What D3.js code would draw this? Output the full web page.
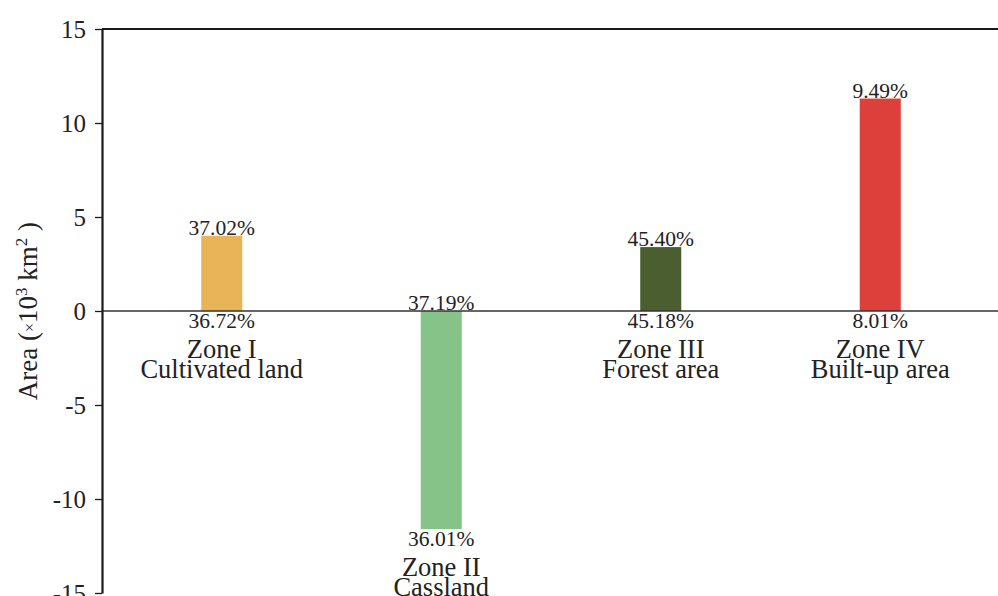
<!DOCTYPE html>
<html>
<head>
<meta charset="utf-8">
<script src="https://cdn.jsdelivr.net/npm/d3@7.9.0/dist/d3.min.js"></script>
<style>
  body { margin: 0; background: #fff; }
  svg { display: block; font-family: 'Liberation Serif', 'Times New Roman', serif; }
</style>
</head>
<body>
<div id="chart"></div>
<script>
// chart data
const zones = ['Zone I', 'Zone II', 'Zone III', 'Zone IV'];
const landTypes = ['Cultivated land', 'Cassland', 'Forest area', 'Built-up area'];
const areaChange = [4.0, -11.6, 3.4, 11.3];
const topLabels = ['37.02%', '37.19%', '45.40%', '9.49%'];
const bottomLabels = ['36.72%', '36.01%', '45.18%', '8.01%'];
const barColors = ['#e9b458', '#86c389', '#4b5e30', '#dd403b'];
const yTicks = [-15, -10, -5, 0, 5, 10, 15];

const data = zones.map((z, i) => ({
  zone: z,
  land: landTypes[i],
  value: areaChange[i],
  top: topLabels[i],
  bottom: bottomLabels[i],
  color: barColors[i],
}));

const width = 998;
const height = 596;
const margin = { top: 29, right: 0, bottom: 3, left: 102 };

const svg = d3.select('#chart')
  .append('svg')
  .attr('width', width)
  .attr('height', height);

const x = d3.scaleBand()
  .domain(zones)
  .range([112, 990])
  .paddingInner(0.813)
  .paddingOuter(0.4065);

const y = d3.scaleLinear()
  .domain([-15, 15])
  .range([height - margin.bottom, margin.top]);

// top frame line
svg.append('line')
  .attr('x1', margin.left)
  .attr('x2', width)
  .attr('y1', y(15))
  .attr('y2', y(15))
  .attr('stroke', '#1a1a1a')
  .attr('stroke-width', 2.2);

// bars
svg.append('g')
  .selectAll('rect')
  .data(data)
  .join('rect')
  .attr('x', (d) => x(d.zone))
  .attr('width', x.bandwidth())
  .attr('y', (d) => y(Math.max(d.value, 0)))
  .attr('height', (d) => Math.abs(y(d.value) - y(0)))
  .attr('fill', (d) => d.color);

// zero line
svg.append('line')
  .attr('x1', margin.left)
  .attr('x2', width)
  .attr('y1', y(0))
  .attr('y2', y(0))
  .attr('stroke', '#333')
  .attr('stroke-width', 1.3);

// y axis (plain hyphen for negatives, like the original)
const yAxis = svg.append('g')
  .attr('transform', `translate(${margin.left},0)`)
  .call(d3.axisLeft(y)
    .tickValues(yTicks)
    .tickFormat((d) => String(d))
    .tickSize(7)
    .tickPadding(9)
    .tickSizeOuter(0));

yAxis.select('.domain')
  .attr('stroke', '#1a1a1a')
  .attr('stroke-width', 2.2);
yAxis.selectAll('.tick line')
  .attr('stroke', '#1a1a1a')
  .attr('stroke-width', 1.3);
yAxis.selectAll('.tick text')
  .attr('font-family', 'Liberation Serif, serif')
  .attr('font-size', 25)
  .attr('fill', '#222');

// y axis title
const title = svg.append('text')
  .attr('transform', `translate(37,${y(0)}) rotate(-90)`)
  .attr('text-anchor', 'middle')
  .attr('font-size', 27)
  .attr('fill', '#222');
title.append('tspan').text('Area (');
title.append('tspan').attr('font-size', 16).attr('dy', -2).text('×');
title.append('tspan').attr('dy', 2).text('10');
title.append('tspan').attr('font-size', 17).attr('dy', -10).text('3');
title.append('tspan').attr('dy', 10).text(' km');
title.append('tspan').attr('font-size', 17).attr('dy', -10).text('2');
title.append('tspan').attr('dy', 10).text(' )');

// value labels
const labels = svg.append('g')
  .attr('font-size', 21.5)
  .attr('fill', '#222')
  .attr('text-anchor', 'middle');

labels.selectAll('.top-label')
  .data(data)
  .join('text')
  .attr('class', 'top-label')
  .attr('x', (d) => x(d.zone) + x.bandwidth() / 2)
  .attr('y', (d) => y(Math.max(d.value, 0)) - 1)
  .text((d) => d.top);

labels.selectAll('.bottom-label')
  .data(data)
  .join('text')
  .attr('class', 'bottom-label')
  .attr('x', (d) => x(d.zone) + x.bandwidth() / 2)
  .attr('y', (d) => y(Math.min(d.value, 0)) + 17)
  .text((d) => d.bottom);

// category labels
const cats = svg.append('g')
  .attr('font-size', 26.5)
  .attr('fill', '#222')
  .attr('text-anchor', 'middle');

cats.selectAll('.zone-label')
  .data(data)
  .join('text')
  .attr('class', 'zone-label')
  .attr('x', (d) => x(d.zone) + x.bandwidth() / 2)
  .attr('y', (d) => y(Math.min(d.value, 0)) + 47)
  .text((d) => d.zone);

cats.selectAll('.land-label')
  .data(data)
  .join('text')
  .attr('class', 'land-label')
  .attr('x', (d) => x(d.zone) + x.bandwidth() / 2)
  .attr('y', (d) => y(Math.min(d.value, 0)) + 67)
  .text((d) => d.land);
</script>
</body>
</html>
